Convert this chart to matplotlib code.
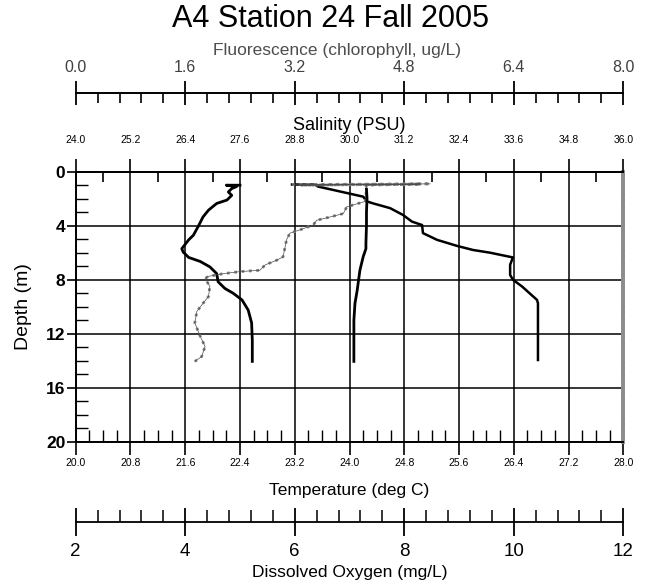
import numpy as np
import matplotlib
matplotlib.use("Agg")
import matplotlib.pyplot as plt
from matplotlib.ticker import MultipleLocator, FormatStrFormatter

plt.rcParams['font.family'] = ['Liberation Sans', 'DejaVu Sans']

# profiles (depth in m)
temp_depth = [1.0, 1.0, 1.1, 1.25, 1.5, 1.75, 2.1, 2.35, 2.85, 3.35, 4.05, 4.7, 5.05, 5.7,
              5.95, 6.35, 6.65, 7.05, 7.55, 8.15, 8.65, 9.0, 9.5, 10.25, 11.2, 12.5, 14.05]
temp = [22.40, 22.20, 22.35, 22.28, 22.23, 22.28, 22.21, 22.06, 21.94, 21.86, 21.79, 21.72, 21.65, 21.55,
        21.57, 21.65, 21.82, 21.96, 22.06, 22.08, 22.18, 22.30, 22.43, 22.52, 22.57, 22.58, 22.58]

sal_depth = [0.95, 0.95, 1.1, 1.85, 2.2, 2.35, 2.7, 3.2, 3.7, 3.95, 4.55, 5.05, 5.5, 5.8, 6.0,
             6.35, 6.9, 7.65, 8.0, 8.5, 9.5, 9.75, 13.95]
sal = [28.74, 29.24, 29.31, 30.30, 30.38, 30.52, 30.89, 31.17, 31.37, 31.59, 31.61, 31.92, 32.36, 32.71, 33.08,
       33.58, 33.52, 33.52, 33.58, 33.78, 34.11, 34.13, 34.13]

do_depth = [1.3, 2.0, 3.0, 4.0, 5.3, 5.7, 6.3, 7.3, 8.8, 9.75, 11.0, 12.5, 14.05]
do = [7.31, 7.32, 7.31, 7.31, 7.30, 7.30, 7.25, 7.19, 7.14, 7.10, 7.08, 7.08, 7.08]

fl_depth = [0.95, 0.9, 1.0, 0.92, 1.0, 1.2, 2.2, 2.6, 3.1, 3.35, 3.6, 3.95, 4.3, 4.55, 5.05, 6.3,
            6.55, 6.9, 7.3, 7.4, 7.55, 7.75, 7.9, 8.5, 9.25, 9.75, 10.35, 11.2, 12.2, 12.95, 13.7, 14.05]
fl = [3.16, 5.18, 3.28, 5.03, 4.24, 4.25, 4.23, 3.96, 3.91, 3.72, 3.52, 3.47, 3.28, 3.13, 3.08, 3.03,
      2.94, 2.77, 2.69, 2.40, 2.16, 1.94, 1.89, 1.96, 1.94, 1.86, 1.77, 1.74, 1.82, 1.89, 1.84, 1.74]

W, H = 654, 586
fig = plt.figure(figsize=(W / 100, H / 100), dpi=100)
L, R, T, B = 75.7, 623.3, 171.7, 441.7
ax = fig.add_axes([L / W, 1 - B / H, (R - L) / W, (B - T) / H])
ph = B - T

# depth / temperature axes
ax.set_ylim(20, 0)
ax.set_xlim(20, 28)
ax.xaxis.set_major_locator(MultipleLocator(0.8))
ax.xaxis.set_minor_locator(MultipleLocator(0.2))
ax.xaxis.set_major_formatter(FormatStrFormatter('%.1f'))
ax.yaxis.set_major_locator(MultipleLocator(4))
ax.yaxis.set_minor_locator(MultipleLocator(1))
ax.tick_params(axis='x', which='major', direction='out', length=9.5, width=1.2, labelsize=7.5, pad=2)
ax.tick_params(axis='x', which='minor', direction='in', length=8.5, width=1.0)
ax.tick_params(axis='y', which='major', direction='out', length=6.5, width=1.2, labelsize=12.5, pad=1)
ax.tick_params(axis='y', which='minor', direction='in', length=8.5, width=1.0)
for lab in ax.get_yticklabels():
    lab.set_fontweight('bold')
ax.grid(True, which='major', color='black', linewidth=1.1)
ax.set_xlabel('Temperature (deg C)', fontsize=12.5, labelpad=11)
ax.set_ylabel('Depth (m)', fontsize=14, labelpad=10)
for s in ['left', 'bottom', 'top']:
    ax.spines[s].set_linewidth(1.4)
ax.spines['right'].set_color('0.55')
ax.spines['right'].set_linewidth(2.8)
ax.spines['right'].set_linestyle((0, (1, 0.6)))

# salinity (top)
ax_s = ax.twiny()
ax_s.set_xlim(24, 36)
ax_s.xaxis.set_major_locator(MultipleLocator(1.2))
ax_s.xaxis.set_minor_locator(MultipleLocator(0.6))
ax_s.xaxis.set_major_formatter(FormatStrFormatter('%.1f'))
ax_s.tick_params(axis='x', which='major', direction='out', length=9.5, width=1.2, labelsize=7.5, pad=10)
ax_s.tick_params(axis='x', which='minor', direction='in', length=7.2, width=1.2)
ax_s.set_xlabel('Salinity (PSU)', fontsize=13, labelpad=3)
for s in ['left', 'bottom', 'right']:
    ax_s.spines[s].set_visible(False)
ax_s.spines['top'].set_linewidth(1.4)

# fluorescence (upper detached axis)
ax_f = ax.twiny()
ax_f.set_xlim(0, 8)
ax_f.spines['top'].set_position(('axes', 1 + (T - 92.7) / ph))
for s in ['left', 'bottom', 'right']:
    ax_f.spines[s].set_visible(False)
ax_f.spines['top'].set_linewidth(1.4)
ax_f.xaxis.set_major_locator(MultipleLocator(1.6))
ax_f.xaxis.set_minor_locator(MultipleLocator(0.32))
ax_f.xaxis.set_major_formatter(FormatStrFormatter('%.1f'))
ax_f.tick_params(axis='x', which='major', direction='inout', length=17, width=1.3, labelsize=11.5, pad=4, labelcolor='0.25')
ax_f.tick_params(axis='x', which='minor', direction='in', length=7.4, width=1.2)
ax_f.set_xlabel('Fluorescence (chlorophyll, ug/L)', fontsize=12.5, color='0.3')
ax_f.xaxis.set_label_coords(0.478, 1 + (T - 55) / ph)

# dissolved oxygen (lower detached axis)
ax_d = ax.twiny()
ax_d.set_xlim(2, 12)
ax_d.xaxis.set_ticks_position('bottom')
ax_d.xaxis.set_label_position('bottom')
ax_d.spines['bottom'].set_position(('axes', -(521.7 - B) / ph))
for s in ['left', 'top', 'right']:
    ax_d.spines[s].set_visible(False)
ax_d.spines['bottom'].set_linewidth(1.3)
ax_d.xaxis.set_major_locator(MultipleLocator(2))
ax_d.xaxis.set_minor_locator(MultipleLocator(0.4))
ax_d.tick_params(axis='x', which='major', direction='inout', length=20, width=1.3, labelsize=13.5, pad=5)
ax_d.tick_params(axis='x', which='minor', direction='in', length=9, width=1.1)
ax_d.set_xlabel('Dissolved Oxygen (mg/L)', fontsize=12.5, labelpad=4)

# profiles
ax_f.plot(fl, fl_depth, color='0.5', linestyle=':', linewidth=2.0)
ax_f.plot(fl, fl_depth, color='0.3', linewidth=0.5)
ax.plot(temp, temp_depth, color='black', linewidth=2.0)
ax_s.plot(sal, sal_depth, color='black', linewidth=1.8)
ax_d.plot(do, do_depth, color='black', linewidth=2.0)
ax.set_ylim(20, 0)

fig.text(330 / W, 1 - 19 / H, 'A4 Station 24 Fall 2005', ha='center', va='center', fontsize=22)

fig.savefig('out.png', dpi=100)
